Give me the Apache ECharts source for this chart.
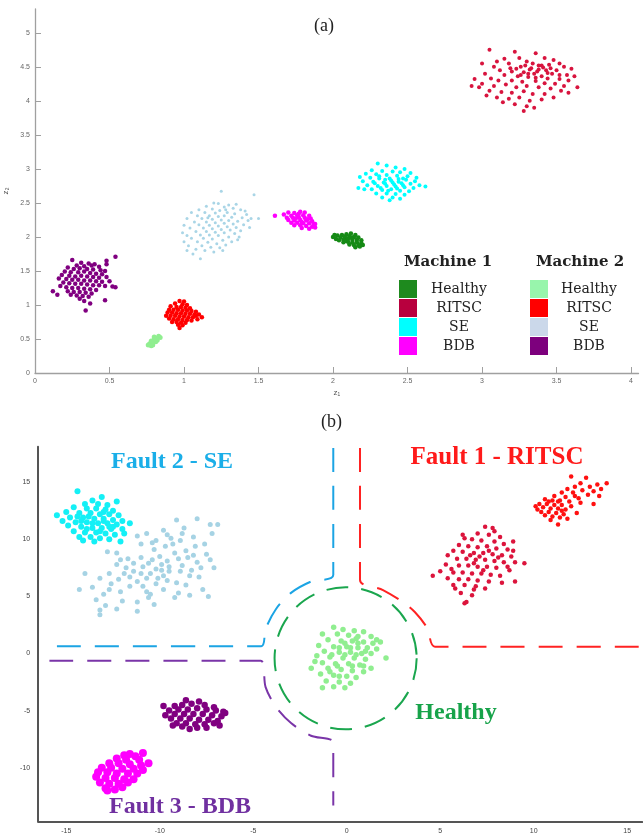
<!DOCTYPE html>
<html>
<head>
<meta charset="utf-8">
<script src="https://cdn.jsdelivr.net/npm/echarts@6/dist/echarts.min.js"></script>
<style>
  html, body { margin: 0; padding: 0; background: #fff; }
  #main { width: 643px; height: 835px; }
</style>
</head>
<body>
<div id="main"></div>
<script>
// ---------- (a) latent space, two machines ----------
const aM1Ritsc = [[3.05,4.75],[3.22,4.72],[3.36,4.70],[3.15,4.62],[3.25,4.63],[3.42,4.63],[3.48,4.60],[3.10,4.58],[3.30,4.58],[3.52,4.55],[3.00,4.55],[3.18,4.55],[3.40,4.52],[3.45,4.53],[3.55,4.50],[3.60,4.47],[3.08,4.50],[3.26,4.50],[3.33,4.48],[3.38,4.46],[3.43,4.45],[3.50,4.45],[3.12,4.45],[3.20,4.43],[3.28,4.42],[3.35,4.40],[3.47,4.40],[3.57,4.38],[3.62,4.36],[3.02,4.40],[3.15,4.38],[3.24,4.36],[3.31,4.35],[3.40,4.36],[3.44,4.33],[3.52,4.32],[3.58,4.30],[2.95,4.32],[3.06,4.33],[3.11,4.30],[3.20,4.30],[3.27,4.28],[3.36,4.29],[3.42,4.26],[3.49,4.25],[3.55,4.22],[3.64,4.20],[2.93,4.22],[3.00,4.25],[3.08,4.22],[3.16,4.24],[3.23,4.20],[3.30,4.22],[3.38,4.20],[3.46,4.18],[3.53,4.15],[3.05,4.15],[3.13,4.13],[3.20,4.12],[3.28,4.14],[3.34,4.10],[3.42,4.10],[3.10,4.05],[3.18,4.03],[3.25,4.05],[3.32,4.00],[3.40,4.02],[3.48,4.05],[3.22,3.95],[3.30,3.92],[3.28,3.85],[3.35,3.90],[3.14,3.98],[2.98,4.20],[3.03,4.08],[3.58,4.12],[3.34,4.55],[3.26,4.38],[3.19,4.48],[3.46,4.48],[3.38,4.52],[3.52,4.38],[3.32,4.46],[3.37,4.43],[3.41,4.49],[3.29,4.52],[3.36,4.34],[3.44,4.41],[3.23,4.47],[3.31,4.40]];
const aM1Se = [[2.30,3.08],[2.36,3.05],[2.42,3.02],[2.48,3.00],[2.26,2.98],[2.33,2.97],[2.40,2.96],[2.45,2.95],[2.52,2.94],[2.22,2.93],[2.29,2.92],[2.36,2.91],[2.43,2.90],[2.50,2.89],[2.18,2.88],[2.25,2.87],[2.31,2.86],[2.38,2.86],[2.44,2.85],[2.49,2.84],[2.55,2.82],[2.20,2.82],[2.27,2.81],[2.34,2.80],[2.40,2.80],[2.46,2.79],[2.52,2.78],[2.58,2.76],[2.23,2.76],[2.30,2.75],[2.36,2.75],[2.42,2.74],[2.48,2.73],[2.54,2.72],[2.17,2.72],[2.26,2.70],[2.33,2.69],[2.39,2.70],[2.45,2.68],[2.51,2.67],[2.29,2.64],[2.36,2.64],[2.42,2.63],[2.48,2.62],[2.33,2.58],[2.40,2.58],[2.45,2.56],[2.38,2.54],[2.35,2.84],[2.41,2.77],[2.32,2.72],[2.44,2.81],[2.37,2.68],[2.28,2.79],[2.47,2.76],[2.56,2.87],[2.21,2.70],[2.62,2.74],[2.39,2.83],[2.43,2.71],[2.35,2.78],[2.31,2.89],[2.47,2.86]];
const aM1Bdb = [[1.61,2.31],[1.67,2.33],[1.70,2.36],[1.74,2.35],[1.78,2.37],[1.81,2.36],[1.72,2.31],[1.76,2.32],[1.80,2.32],[1.84,2.31],[1.69,2.28],[1.73,2.28],[1.77,2.29],[1.81,2.28],[1.85,2.27],[1.70,2.25],[1.74,2.24],[1.78,2.25],[1.82,2.24],[1.86,2.23],[1.72,2.21],[1.76,2.21],[1.80,2.20],[1.84,2.20],[1.88,2.19],[1.74,2.17],[1.78,2.17],[1.82,2.16],[1.86,2.15],[1.79,2.13],[1.84,2.12],[1.88,2.14],[1.75,2.27],[1.79,2.22],[1.83,2.26],[1.77,2.34],[1.87,2.18]];
const aM1Healthy = [[2.00,2.00],[2.03,2.02],[2.06,2.03],[2.09,2.04],[2.12,2.05],[2.15,2.03],[2.02,1.97],[2.05,1.99],[2.08,2.00],[2.11,2.01],[2.14,2.00],[2.17,1.99],[2.04,1.95],[2.07,1.96],[2.10,1.97],[2.13,1.96],[2.16,1.96],[2.19,1.95],[2.07,1.92],[2.10,1.93],[2.13,1.92],[2.16,1.92],[2.19,1.91],[2.11,1.89],[2.14,1.88],[2.17,1.88],[2.20,1.88],[2.15,1.85],[2.18,1.86],[2.01,2.03],[2.08,1.94],[2.12,1.99]];
const aM2Se = [[1.25,2.67],[1.47,2.62],[1.20,2.50],[1.23,2.49],[1.30,2.47],[1.35,2.48],[1.15,2.45],[1.27,2.44],[1.33,2.42],[1.10,2.40],[1.19,2.41],[1.24,2.39],[1.38,2.40],[1.05,2.36],[1.14,2.36],[1.21,2.35],[1.29,2.36],[1.34,2.34],[1.42,2.33],[1.09,2.31],[1.17,2.31],[1.23,2.30],[1.27,2.31],[1.32,2.29],[1.39,2.28],[1.45,2.27],[1.50,2.27],[1.02,2.27],[1.12,2.27],[1.19,2.26],[1.25,2.25],[1.30,2.24],[1.36,2.23],[1.43,2.24],[1.07,2.22],[1.15,2.22],[1.21,2.21],[1.27,2.20],[1.33,2.19],[1.40,2.18],[1.00,2.17],[1.10,2.18],[1.17,2.17],[1.23,2.16],[1.29,2.15],[1.35,2.14],[1.04,2.13],[1.13,2.13],[1.19,2.12],[1.25,2.11],[1.31,2.10],[1.38,2.09],[0.99,2.06],[1.08,2.08],[1.15,2.08],[1.21,2.07],[1.27,2.06],[1.34,2.05],[1.02,2.02],[1.11,2.03],[1.17,2.03],[1.23,2.02],[1.30,2.00],[1.36,1.96],[1.05,1.98],[1.13,1.98],[1.19,1.97],[1.26,1.95],[1.32,1.93],[1.00,1.93],[1.09,1.93],[1.16,1.92],[1.22,1.90],[1.28,1.88],[1.03,1.87],[1.12,1.87],[1.18,1.85],[1.24,1.84],[1.02,1.80],[1.08,1.82],[1.14,1.80],[1.20,1.78],[1.11,1.68],[1.06,1.75],[1.26,1.80],[1.37,2.00],[1.44,2.14],[1.16,2.28],[1.28,2.40],[1.41,2.38]];
const aM2Ritsc = [[0.97,1.06],[1.00,1.05],[0.94,1.02],[0.99,1.01],[1.02,1.00],[0.91,0.98],[0.95,0.97],[0.98,0.97],[1.01,0.96],[1.04,0.95],[0.90,0.93],[0.93,0.93],[0.96,0.93],[0.99,0.92],[1.02,0.92],[1.05,0.91],[1.08,0.90],[0.89,0.89],[0.92,0.89],[0.95,0.88],[0.98,0.88],[1.01,0.87],[1.04,0.87],[1.07,0.86],[1.10,0.86],[0.88,0.84],[0.91,0.84],[0.94,0.84],[0.97,0.83],[1.00,0.83],[1.03,0.82],[1.06,0.82],[1.12,0.82],[0.90,0.80],[0.93,0.79],[0.96,0.79],[0.99,0.78],[1.02,0.78],[1.05,0.77],[0.92,0.75],[0.95,0.75],[0.98,0.74],[1.01,0.74],[0.96,0.71],[0.99,0.70],[0.97,0.66],[1.09,0.79],[1.08,0.84]];
const aM2Healthy = [[0.78,0.40],[0.77,0.43],[0.79,0.44],[0.81,0.46],[0.78,0.47],[0.80,0.49],[0.82,0.51],[0.80,0.53],[0.83,0.54],[0.84,0.52],[0.76,0.41],[0.79,0.41],[0.82,0.48]];
const aM2Bdb = [[0.25,1.66],[0.54,1.71],[0.48,1.65],[0.48,1.60],[0.31,1.62],[0.36,1.61],[0.40,1.60],[0.28,1.58],[0.33,1.57],[0.38,1.58],[0.43,1.56],[0.22,1.55],[0.26,1.53],[0.30,1.54],[0.35,1.53],[0.39,1.52],[0.44,1.51],[0.47,1.50],[0.20,1.49],[0.24,1.48],[0.29,1.48],[0.33,1.49],[0.37,1.47],[0.41,1.46],[0.45,1.45],[0.18,1.44],[0.23,1.43],[0.27,1.42],[0.31,1.43],[0.35,1.42],[0.39,1.41],[0.43,1.40],[0.48,1.41],[0.21,1.38],[0.25,1.37],[0.29,1.37],[0.33,1.36],[0.37,1.36],[0.41,1.35],[0.45,1.34],[0.19,1.33],[0.23,1.32],[0.27,1.31],[0.31,1.31],[0.35,1.30],[0.39,1.29],[0.43,1.29],[0.47,1.28],[0.52,1.27],[0.54,1.26],[0.17,1.28],[0.21,1.26],[0.25,1.25],[0.29,1.25],[0.33,1.24],[0.37,1.23],[0.41,1.22],[0.22,1.20],[0.26,1.19],[0.30,1.19],[0.34,1.18],[0.38,1.17],[0.15,1.15],[0.24,1.15],[0.28,1.14],[0.32,1.13],[0.36,1.12],[0.30,1.09],[0.33,1.06],[0.47,1.07],[0.34,0.92],[0.37,1.02],[0.12,1.20],[0.16,1.39],[0.50,1.35]];

const aXTicks = [0, 0.5, 1, 1.5, 2, 2.5, 3, 3.5, 4];
const aYTicks = [0, 0.5, 1, 1.5, 2, 2.5, 3, 3.5, 4, 4.5, 5];
const legendNames = ['Healthy', 'RITSC', 'SE', 'BDB'];
const legendM1Colors = ['#1e8a1e', '#b8003e', '#00ffff', '#ff00ff'];
const legendM2Colors = ['#98f5ac', '#ff0000', '#cbd8ea', '#7d007d'];

// ---------- (b) fault regions ----------
const bSe1 = [[-14.4,14.2],[-13.1,13.7],[-13.6,13.4],[-12.3,13.3],[-14.0,13.1],[-13.3,13.1],[-12.8,13.0],[-14.6,12.8],[-13.9,12.7],[-13.4,12.7],[-12.9,12.6],[-12.5,12.5],[-15.0,12.4],[-14.3,12.3],[-13.7,12.3],[-13.2,12.2],[-12.7,12.2],[-12.2,12.1],[-15.5,12.1],[-14.8,11.9],[-14.1,11.9],[-13.5,11.8],[-13.0,11.8],[-12.5,11.7],[-12.0,11.6],[-15.2,11.6],[-14.5,11.5],[-13.9,11.5],[-13.3,11.4],[-12.8,11.4],[-12.3,11.3],[-11.6,11.4],[-14.9,11.2],[-14.2,11.1],[-13.6,11.0],[-13.1,11.0],[-12.6,10.9],[-12.0,10.9],[-14.6,10.7],[-14.0,10.6],[-13.4,10.6],[-12.9,10.5],[-12.4,10.4],[-11.9,10.5],[-14.3,10.2],[-13.7,10.2],[-13.2,10.1],[-12.7,10.0],[-13.5,9.8],[-12.1,9.8],[-14.1,9.9],[-13.0,11.6],[-13.8,12.0],[-12.7,11.1],[-14.4,12.0],[-13.2,10.7],[-13.6,11.4],[-13.0,12.4],[-13.9,10.9],[-12.5,11.1],[-14.2,11.6]];
const bSe2 = [[-11.2,10.3],[-10.7,10.5],[-9.8,10.8],[-9.1,11.7],[-8.0,11.8],[-7.3,11.3],[-6.9,11.3],[-7.2,10.5],[-8.2,10.2],[-8.8,10.5],[-9.4,10.1],[-10.2,9.9],[-11.0,9.6],[-12.8,8.9],[-12.3,8.8],[-10.3,9.1],[-9.7,9.4],[-9.2,8.8],[-8.6,9.0],[-8.1,9.4],[-7.6,9.6],[-7.5,8.7],[-10.4,8.2],[-10.0,8.5],[-9.6,8.1],[-9.0,8.3],[-8.5,8.4],[-8.0,8.0],[-7.3,8.2],[-11.4,7.9],[-10.9,7.6],[-10.6,7.9],[-10.2,7.4],[-9.9,7.8],[-9.5,7.6],[-8.8,7.7],[-8.3,7.3],[-7.8,7.5],[-12.3,7.8],[-11.8,7.5],[-11.4,7.2],[-11.0,7.0],[-10.5,7.0],[-9.9,7.3],[-9.5,7.2],[-8.9,7.2],[-8.4,6.8],[-7.9,6.7],[-11.6,6.7],[-12.7,7.0],[-14.0,7.0],[-13.2,6.6],[-12.2,6.5],[-11.2,6.3],[-10.7,6.6],[-10.2,6.1],[-9.6,6.4],[-9.1,6.2],[-8.6,6.0],[-13.6,5.8],[-14.3,5.6],[-12.7,5.6],[-12.1,5.4],[-11.6,5.9],[-10.7,5.4],[-9.8,5.6],[-9.0,5.3],[-8.4,5.1],[-7.7,5.6],[-7.4,5.0],[-11.2,4.5],[-12.3,3.9],[-13.2,3.8],[-13.4,4.7],[-13.2,3.4],[-12.9,4.2],[-11.2,3.7],[-10.3,4.3],[-10.6,4.9],[-12.0,4.6],[-13.0,5.2],[-11.0,8.4],[-9.3,9.6],[-8.7,11.0],[-10.4,9.7],[-11.7,8.3],[-9.8,6.8],[-10.9,5.9],[-12.6,6.1],[-8.2,8.6],[-7.1,7.5],[-9.2,4.9],[-11.9,7.0],[-10.1,6.6],[-8.9,9.9],[-9.6,10.4],[-12.1,8.2],[-10.5,5.2]];
const bRitsc1 = [[4.6,6.8],[5.4,8.6],[5.6,7.4],[6.3,10.1],[6.3,4.4],[7.4,11.1],[7.8,11.0],[8.9,9.8],[9.5,7.9],[9.0,6.3],[8.6,7.6],[6.8,5.6],[5.8,5.7],[6.4,4.5],[7.0,10.5],[7.6,10.4],[8.2,10.2],[6.7,10.0],[7.2,9.9],[7.9,9.8],[8.4,9.6],[6.0,9.5],[6.5,9.4],[7.0,9.3],[7.5,9.4],[8.0,9.2],[8.6,9.1],[5.7,9.0],[6.2,8.9],[6.8,8.8],[7.3,8.8],[7.8,8.7],[8.3,8.6],[8.8,8.5],[5.9,8.3],[6.4,8.3],[6.9,8.2],[7.4,8.2],[7.9,8.1],[8.4,8.0],[9.0,8.0],[5.3,7.8],[6.0,7.7],[6.5,7.7],[7.0,7.6],[7.5,7.6],[8.0,7.5],[8.7,7.3],[5.0,7.2],[5.7,7.1],[6.2,7.1],[6.7,7.0],[7.2,7.0],[7.7,6.9],[8.2,6.8],[5.4,6.6],[6.0,6.5],[6.5,6.5],[7.0,6.4],[7.6,6.3],[8.3,6.2],[5.7,6.0],[6.3,6.0],[6.9,5.9],[7.4,5.7],[6.1,5.3],[6.7,5.1],[7.1,8.5],[7.6,9.0],[6.6,8.6],[8.1,8.4],[7.3,7.3],[6.8,7.9],[8.9,9.0],[7.9,10.7],[6.2,10.4]];
const bRitsc2 = [[13.9,14.9],[12.8,15.4],[12.0,15.5],[13.4,14.8],[12.5,14.9],[13.0,14.6],[12.2,14.6],[13.6,14.4],[11.8,14.4],[12.6,14.3],[13.2,14.2],[11.5,14.1],[12.1,14.1],[12.9,13.9],[13.5,13.8],[11.1,13.8],[11.7,13.7],[12.4,13.6],[10.6,13.5],[11.0,13.4],[11.4,13.4],[11.9,13.3],[12.5,13.2],[13.2,13.1],[10.3,13.1],[10.7,13.1],[11.1,13.0],[11.5,13.0],[12.0,12.9],[10.1,12.9],[10.5,12.8],[10.9,12.7],[11.3,12.7],[11.7,12.6],[12.3,12.3],[10.4,12.4],[10.8,12.4],[11.2,12.3],[11.6,12.2],[10.6,12.1],[11.0,12.0],[11.4,11.9],[10.9,11.7],[11.3,11.3],[11.8,11.8],[10.2,12.6],[11.3,13.3],[10.8,13.3],[11.5,12.5],[12.2,13.8]];
const bHealthy = [[-0.7,2.3],[-0.2,2.1],[0.4,2.0],[0.9,1.9],[-1.3,1.7],[-0.5,1.7],[0.1,1.6],[0.6,1.5],[1.3,1.5],[1.8,1.0],[-1.0,1.2],[-0.3,1.1],[0.3,1.1],[0.9,1.0],[1.4,0.9],[-1.5,0.7],[-0.7,0.6],[0.0,0.6],[0.6,0.5],[1.1,0.5],[1.6,0.4],[-1.2,0.2],[-0.4,0.1],[0.2,0.1],[0.8,0.0],[1.3,0.0],[-1.7,-0.7],[-0.9,-0.3],[-0.2,-0.4],[0.4,-0.4],[1.0,-0.5],[2.1,-0.4],[-1.3,-0.8],[-0.6,-0.9],[0.1,-0.9],[0.7,-1.0],[1.3,-1.3],[-1.9,-1.3],[-1.0,-1.3],[-0.3,-1.4],[0.3,-1.5],[0.9,-1.6],[-1.4,-1.8],[-0.7,-1.9],[0.0,-2.0],[0.5,-2.1],[-1.1,-2.4],[-0.4,-2.5],[0.2,-2.6],[-1.3,-3.0],[-0.1,-3.0],[-0.7,-2.9],[0.5,-0.1],[-0.1,0.9],[0.5,1.3],[-0.8,-0.1],[1.6,1.2],[-1.6,-0.2],[0.9,-1.1],[-0.4,-2.0],[0.2,0.5],[-0.4,0.5],[0.6,0.9],[-0.1,-0.1],[0.3,-1.1],[-0.9,-1.6],[1.0,0.2],[-0.5,-1.1]];
const bBdb1 = [[-9.8,-4.6],[-8.6,-4.1],[-7.9,-4.2],[-9.2,-4.6],[-8.8,-4.5],[-8.3,-4.4],[-7.6,-4.5],[-7.1,-4.7],[-9.5,-5.0],[-9.0,-4.9],[-8.5,-4.9],[-8.0,-4.8],[-7.5,-4.9],[-7.0,-5.0],[-6.6,-5.1],[-9.7,-5.4],[-9.2,-5.3],[-8.7,-5.3],[-8.2,-5.3],[-7.7,-5.3],[-7.2,-5.4],[-6.7,-5.5],[-6.5,-5.2],[-9.4,-5.7],[-8.9,-5.7],[-8.4,-5.7],[-7.9,-5.8],[-7.4,-5.8],[-6.9,-5.9],[-9.1,-6.1],[-8.6,-6.1],[-8.1,-6.2],[-7.6,-6.2],[-7.1,-6.1],[-6.8,-6.3],[-9.3,-6.3],[-8.4,-6.6],[-7.5,-6.5],[-8.0,-6.5],[-8.8,-6.4]];
const bBdb2 = [[-10.9,-8.7],[-11.6,-8.8],[-11.9,-8.9],[-11.3,-9.0],[-12.3,-9.2],[-11.8,-9.3],[-11.1,-9.3],[-10.6,-9.6],[-12.7,-9.6],[-12.2,-9.6],[-11.6,-9.7],[-11.0,-9.8],[-13.1,-10.0],[-12.6,-10.0],[-12.0,-10.1],[-11.4,-10.1],[-10.9,-10.2],[-13.3,-10.4],[-12.8,-10.4],[-12.3,-10.5],[-11.7,-10.5],[-11.2,-10.5],[-13.4,-10.8],[-12.9,-10.9],[-12.4,-10.9],[-11.9,-11.0],[-11.4,-11.0],[-13.2,-11.3],[-12.7,-11.4],[-12.2,-11.4],[-11.7,-11.3],[-12.9,-11.8],[-12.4,-11.9],[-12.0,-11.7],[-12.8,-12.0]];

// decision boundaries (data coords)
const boundarySe = [[-0.72,18.0],[-0.72,6.87],[-1.91,6.30],[-2.98,5.31],[-3.79,3.88],[-4.34,2.15],[-4.57,0.64],[-15.7,0.64]];
const boundaryBdb = [[-15.9,-0.63],[-4.60,-0.63],[-4.34,-2.94],[-3.79,-4.67],[-2.98,-6.09],[-1.91,-7.20],[-0.72,-7.81],[-0.72,-13.3]];
const boundaryRitsc = [[0.71,18.0],[0.71,6.44],[1.94,5.56],[2.95,4.56],[3.64,3.63],[4.31,2.21],[4.72,0.60],[16.0,0.60]];
const healthyCircle = [[-0.06, -0.42, 3.8]]; // cx, cy, radius in x units

const bXTicks = [-15, -10, -5, 0, 5, 10, 15];
const bYTicks = [-10, -5, 0, 5, 10, 15];

const chart = echarts.init(document.getElementById('main'));

function scatter(name, data, color, size, idx) {
    return {
        name: name, type: 'scatter', data: data,
        xAxisIndex: idx, yAxisIndex: idx,
        symbolSize: size, itemStyle: { color: color, opacity: 1 },
        silent: true, animation: false
    };
}
function dashed(data, color) {
    return {
        type: 'line', data: data, xAxisIndex: 1, yAxisIndex: 1,
        symbol: 'none', smooth: 0.3, silent: true, animation: false,
        lineStyle: { color: color, width: 2, type: [24, 14] }
    };
}

// legend of (a) drawn as graphic
const legendGraphics = [
    { type: 'text', x: 448, y: 262, style: { text: 'Machine 1', font: 'bold 15px "DejaVu Serif"', fill: '#222', align: 'center', verticalAlign: 'middle' } },
    { type: 'text', x: 580, y: 262, style: { text: 'Machine 2', font: 'bold 15px "DejaVu Serif"', fill: '#222', align: 'center', verticalAlign: 'middle' } }
];
legendNames.forEach(function (n, i) {
    const y = 280 + i * 19;
    legendGraphics.push(
        { type: 'rect', shape: { x: 399, y: y, width: 18, height: 18 }, style: { fill: legendM1Colors[i] } },
        { type: 'text', x: 459, y: y + 9, style: { text: n, font: '14px "DejaVu Serif"', fill: '#222', align: 'center', verticalAlign: 'middle' } },
        { type: 'rect', shape: { x: 530, y: y, width: 18, height: 18 }, style: { fill: legendM2Colors[i] } },
        { type: 'text', x: 589, y: y + 9, style: { text: n, font: '14px "DejaVu Serif"', fill: '#222', align: 'center', verticalAlign: 'middle' } }
    );
});

const regionLabels = [
    { type: 'text', x: 172, y: 462, style: { text: 'Fault 2 - SE', font: 'bold 24px "Liberation Serif"', fill: '#1aaee8', align: 'center', verticalAlign: 'middle' } },
    { type: 'text', x: 497, y: 458, style: { text: 'Fault 1 - RITSC', font: 'bold 25px "Liberation Serif"', fill: '#ff1a1a', align: 'center', verticalAlign: 'middle' } },
    { type: 'text', x: 456, y: 713, style: { text: 'Healthy', font: 'bold 24px "Liberation Serif"', fill: '#17a34a', align: 'center', verticalAlign: 'middle' } },
    { type: 'text', x: 180, y: 807, style: { text: 'Fault 3 - BDB', font: 'bold 24px "Liberation Serif"', fill: '#7030a0', align: 'center', verticalAlign: 'middle' } }
];

const option = {
    backgroundColor: '#fff',
    animation: false,
    title: [
        { text: '(a)', left: 309, top: 12, textStyle: { fontFamily: 'Liberation Serif', fontSize: 18, fontWeight: 'normal', color: '#222' } },
        { text: '(b)', left: 316, top: 408, textStyle: { fontFamily: 'Liberation Serif', fontSize: 18, fontWeight: 'normal', color: '#222' } }
    ],
    grid: [
        { left: 35, top: 9, right: 4.5, bottom: 462, outerBoundsMode: 'none' },
        { left: 38.2, top: 446.8, right: 0.8, bottom: 13.6, outerBoundsMode: 'none' }
    ],
    xAxis: [
        {
            gridIndex: 0, type: 'value', min: 0, max: 4.05,
            name: 'z\u2081', nameLocation: 'middle', nameGap: 16,
            nameTextStyle: { fontSize: 8, color: '#555' },
            axisLine: { onZero: false, lineStyle: { color: '#a0a0a0', width: 1.3 } },
            axisTick: { inside: true, length: 6, customValues: aXTicks, lineStyle: { color: '#a0a0a0' } },
            axisLabel: { customValues: aXTicks, fontSize: 7, color: '#666', margin: 5 },
            splitLine: { show: false }
        },
        {
            gridIndex: 1, type: 'value', min: -16.5, max: 15.8,
            axisLine: { onZero: false, lineStyle: { color: '#555', width: 2 } },
            axisTick: { show: false },
            axisLabel: { customValues: bXTicks, fontSize: 7, color: '#444', margin: 6 },
            splitLine: { show: false }
        }
    ],
    yAxis: [
        {
            gridIndex: 0, type: 'value', min: 0, max: 5.35,
            name: 'z\u2082', nameLocation: 'middle', nameGap: 20,
            nameTextStyle: { fontSize: 8, color: '#555' },
            axisLine: { show: true, onZero: false, lineStyle: { color: '#a0a0a0', width: 1.3 } },
            axisTick: { show: true, inside: true, length: 6, customValues: aYTicks, lineStyle: { color: '#a0a0a0' } },
            axisLabel: { customValues: aYTicks, fontSize: 7, color: '#666', margin: 5 },
            splitLine: { show: false }
        },
        {
            gridIndex: 1, type: 'value', min: -14.7, max: 18.1,
            axisLine: { show: true, onZero: false, lineStyle: { color: '#555', width: 2 } },
            axisTick: { show: false },
            axisLabel: { customValues: bYTicks, fontSize: 7, color: '#444', margin: 8 },
            splitLine: { show: false }
        }
    ],
    series: [
        scatter('M2 SE', aM2Se, '#a9d5e6', 3, 0),
        scatter('M1 RITSC', aM1Ritsc, '#d8143e', 4, 0),
        scatter('M1 SE', aM1Se, '#00ffff', 4, 0),
        scatter('M1 BDB', aM1Bdb, '#ff00ff', 4.5, 0),
        scatter('M1 Healthy', aM1Healthy, '#158a15', 4.5, 0),
        scatter('M2 RITSC', aM2Ritsc, '#ff0000', 4.5, 0),
        scatter('M2 Healthy', aM2Healthy, '#90ee90', 5, 0),
        scatter('M2 BDB', aM2Bdb, '#800080', 4.5, 0),

        dashed(boundarySe, '#1ba4e4'),
        dashed(boundaryBdb, '#7a35a8'),
        dashed(boundaryRitsc, '#ff2222'),
        {
            type: 'custom', xAxisIndex: 1, yAxisIndex: 1, data: healthyCircle, silent: true,
            renderItem: function (params, api) {
                const c = api.coord([api.value(0), api.value(1)]);
                const r = api.size([api.value(2), 0])[0];
                return {
                    type: 'circle', shape: { cx: c[0], cy: c[1], r: r },
                    style: { fill: 'none', stroke: '#1aa64e', lineWidth: 2, lineDash: [22, 13] }
                };
            }
        },
        scatter('SE 2', bSe2, '#a6d3e4', 5, 1),
        scatter('SE 1', bSe1, '#14f0f6', 6, 1),
        scatter('RITSC 1', bRitsc1, '#dc143c', 4.5, 1),
        scatter('RITSC 2', bRitsc2, '#ff1010', 4.5, 1),
        scatter('Healthy', bHealthy, '#90ee90', 5.5, 1),
        scatter('BDB 1', bBdb1, '#800080', 6.5, 1),
        scatter('BDB 2', bBdb2, '#ff00ff', 8, 1)
    ],
    graphic: legendGraphics.concat(regionLabels)
};
chart.setOption(option);
</script>
</body>
</html>
